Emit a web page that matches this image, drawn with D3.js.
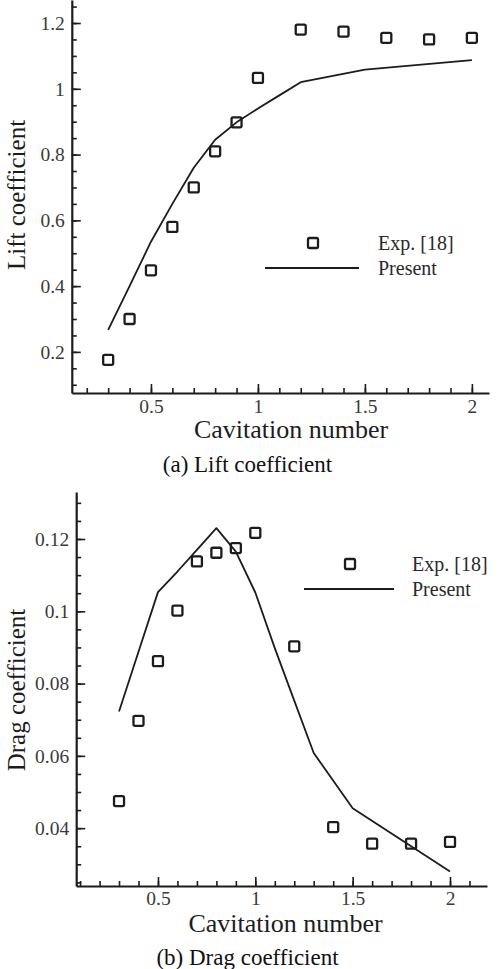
<!DOCTYPE html>
<html>
<head>
<meta charset="utf-8">
<script src="https://cdn.jsdelivr.net/npm/d3@7"></script>
</head>
<body style="margin:0">
<div class="chart"></div>
<script>
// cavitation numbers
const expSigma = [0.3, 0.4, 0.5, 0.6, 0.7, 0.8, 0.9, 1.0, 1.2, 1.4, 1.6, 1.8, 2.0];

// (a) lift
const liftExp = [0.176, 0.30, 0.448, 0.58, 0.70, 0.81, 0.898, 1.033, 1.18, 1.174, 1.155, 1.15, 1.155];
const liftSigma = [0.3, 0.4, 0.5, 0.6, 0.7, 0.8, 0.9, 1.0, 1.1, 1.2, 1.5, 2.0];
const liftPresent = [0.267, 0.40, 0.535, 0.65, 0.76, 0.845, 0.898, 0.94, 0.98, 1.02, 1.058, 1.087];

// (b) drag
const dragExp = [0.0475, 0.0697, 0.0862, 0.1002, 0.1138, 0.1162, 0.1175, 0.1217, 0.0903, 0.0403, 0.0357, 0.0357, 0.0362];
const dragSigma = [0.3, 0.4, 0.5, 0.6, 0.7, 0.8, 0.9, 1.0, 1.1, 1.2, 1.3, 1.5, 2.0];
const dragPresent = [0.0723, 0.0888, 0.1053, 0.111, 0.117, 0.123, 0.1165, 0.1052, 0.0898, 0.0753, 0.0608, 0.0455, 0.028];

const liftTicks = [0.2, 0.4, 0.6, 0.8, 1, 1.2];
const dragTicks = [0.04, 0.06, 0.08, 0.1, 0.12];
const sigmaTicks = [0.5, 1, 1.5, 2];

const ink = "#1c1c1c";
const serif = "Liberation Serif";

const svg = d3.select(".chart").append("svg")
    .attr("width", 497)
    .attr("height", 969);

function label(sel, size) {
    return sel.attr("font-size", size).style("font-family", serif);
}

function panel(opt) {
    const x = d3.scaleLinear().domain(opt.xDomain).range(opt.xRange);
    const y = d3.scaleLinear().domain(opt.yDomain).range(opt.yRange);
    const g = svg.append("g");

    const x0 = opt.xRange[0], y0 = opt.yRange[0];

    // minor ticks
    g.append("g")
        .attr("transform", `translate(0,${y0})`)
        .call(d3.axisBottom(x).tickValues(opt.xMinor).tickSizeInner(-5).tickSizeOuter(0).tickFormat(""))
        .call(s => s.select(".domain").remove());
    g.append("g")
        .attr("transform", `translate(${x0},0)`)
        .call(d3.axisLeft(y).tickValues(opt.yMinor).tickSizeInner(-5).tickSizeOuter(0).tickFormat(""))
        .call(s => s.select(".domain").remove());

    // major ticks + labels
    g.append("g")
        .attr("transform", `translate(0,${y0})`)
        .call(d3.axisBottom(x).tickValues(sigmaTicks).tickSizeInner(-9).tickSizeOuter(0).tickPadding(opt.xPad).tickFormat(d3.format("")));
    g.append("g")
        .attr("transform", `translate(${x0},0)`)
        .call(d3.axisLeft(y).tickValues(opt.yTicks).tickSizeInner(-9).tickSizeOuter(0).tickPadding(opt.yPad).tickFormat(d3.format("")));

    g.selectAll("g").attr("font-family", null).attr("font-size", null);
    g.selectAll(".tick line").attr("stroke", ink).attr("stroke-width", 1.6);
    g.selectAll(".domain").attr("stroke", ink).attr("stroke-width", 2.2);
    g.selectAll(".tick text").attr("fill", "#3a3a3a").call(label, 19.5);

    // present (line)
    g.append("path")
        .datum(d3.zip(opt.lineX, opt.lineY))
        .attr("fill", "none")
        .attr("stroke", ink)
        .attr("stroke-width", 1.8)
        .attr("stroke-linejoin", "round")
        .attr("d", d3.line().x(d => x(d[0])).y(d => y(d[1])));

    // experiment (squares)
    g.selectAll("rect.exp")
        .data(d3.zip(expSigma, opt.expY))
        .join("rect")
        .attr("class", "exp")
        .attr("x", d => x(d[0]) - 5)
        .attr("y", d => y(d[1]) - 5)
        .attr("width", 10)
        .attr("height", 10)
        .attr("rx", 1.5)
        .attr("fill", "none")
        .attr("stroke", ink)
        .attr("stroke-width", 2.3);

    // legend
    const lg = opt.legend;
    g.append("rect")
        .attr("x", lg.sq - 5).attr("y", lg.y1 - 5)
        .attr("width", 10).attr("height", 10).attr("rx", 1.5)
        .attr("fill", "none").attr("stroke", ink).attr("stroke-width", 2.3);
    g.append("line")
        .attr("x1", lg.l1).attr("x2", lg.l2)
        .attr("y1", lg.y2).attr("y2", lg.y2)
        .attr("stroke", ink).attr("stroke-width", 1.8);
    g.append("text").attr("x", lg.tx).attr("y", lg.y1 + 7)
        .call(label, 20).attr("fill", "#2a2a2a").text("Exp. [18]");
    g.append("text").attr("x", lg.tx).attr("y", lg.y2 + 7)
        .call(label, 20).attr("fill", "#2a2a2a").text("Present");

    // titles
    g.append("text")
        .attr("transform", `translate(25,${opt.yTitleY}) rotate(-90)`)
        .attr("text-anchor", "middle")
        .call(label, 25).attr("fill", ink)
        .text(opt.yTitle);
    g.append("text")
        .attr("x", opt.xTitleX).attr("y", opt.xTitleBase)
        .attr("text-anchor", "middle")
        .call(label, 26).attr("fill", ink)
        .text("Cavitation number");
    g.append("text")
        .attr("x", 247.5).attr("y", opt.capBase)
        .attr("text-anchor", "middle")
        .call(label, 23).attr("fill", "#111")
        .text(opt.caption);
}

panel({
    xDomain: [0.13, 2.08], xRange: [71.8, 489],
    yDomain: [0.075, 1.27], yRange: [393, 0],
    xMinor: d3.range(2, 21).map(d => d / 10),
    yMinor: d3.range(2, 26).map(d => d / 20),
    yTicks: liftTicks,
    xPad: 6, yPad: 7,
    lineX: liftSigma, lineY: liftPresent,
    expY: liftExp,
    legend: { sq: 313, y1: 243, l1: 265, l2: 359, y2: 268, tx: 378 },
    yTitle: "Lift coefficient", yTitleY: 195,
    xTitleX: 291, xTitleBase: 438,
    caption: "(a) Lift coefficient", capBase: 472
});

panel({
    xDomain: [0.08, 2.19], xRange: [76.2, 487],
    yDomain: [0.024, 0.133], yRange: [886, 492],
    xMinor: d3.range(1, 22).map(d => d / 10),
    yMinor: d3.range(5, 27).map(d => d / 200),
    yTicks: dragTicks,
    xPad: 5, yPad: 7,
    lineX: dragSigma, lineY: dragPresent,
    expY: dragExp,
    legend: { sq: 350, y1: 564, l1: 304, l2: 394, y2: 589, tx: 412 },
    yTitle: "Drag coefficient", yTitleY: 690,
    xTitleX: 285.5, xTitleBase: 931.5,
    caption: "(b) Drag coefficient", capBase: 965
});
</script>
</body>
</html>
